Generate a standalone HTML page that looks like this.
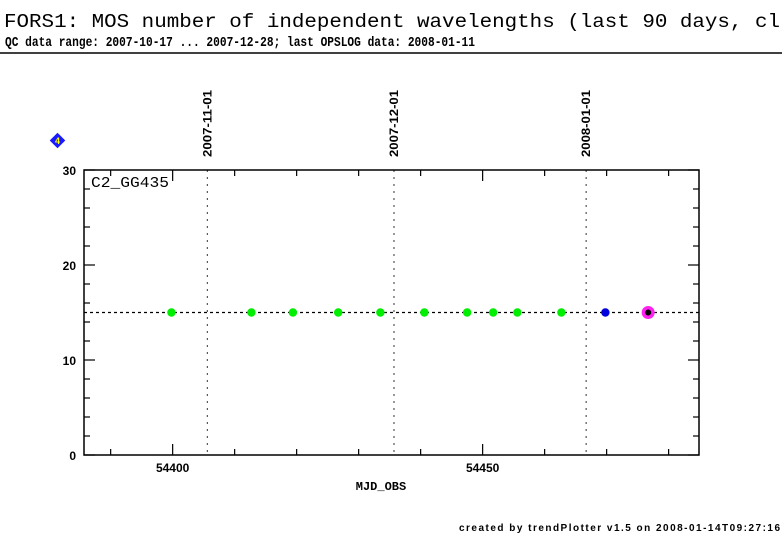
<!DOCTYPE html>
<html><head><meta charset="utf-8"><style>
body{margin:0;background:#fff;width:782px;height:542px;overflow:hidden;}
svg{display:block}
</style></head><body>
<svg id="chart" width="782" height="542" xmlns="http://www.w3.org/2000/svg">
<text x="4" y="27" font-family="Liberation Mono, monospace" font-size="19" fill="#000" textLength="776" lengthAdjust="spacingAndGlyphs">FORS1: MOS number of independent wavelengths (last 90 days, cl</text>
<text x="5" y="46" font-family="Liberation Mono, monospace" font-size="14" font-weight="bold" fill="#000" textLength="470" lengthAdjust="spacingAndGlyphs">QC data range: 2007-10-17 ... 2007-12-28; last OPSLOG data: 2008-01-11</text>
<line x1="0" y1="53" x2="782" y2="53" stroke="#000" stroke-width="1.5"/>
<g><rect x="52" y="135" width="11" height="11" fill="#1a1aff" transform="rotate(45 57.5 140.5)"/><text x="57.5" y="144" font-family="Liberation Sans, sans-serif" font-size="9" font-weight="bold" fill="#ff0" text-anchor="middle">4</text></g>
<text x="91" y="187" font-family="Liberation Mono, monospace" font-size="15" fill="#000" textLength="78" lengthAdjust="spacingAndGlyphs">C2_GG435</text>
<g id="plot"></g>
<text x="381" y="490" font-family="Liberation Mono, monospace" font-size="12" font-weight="bold" text-anchor="middle">MJD_OBS</text>
<text x="459" y="531" font-family="Liberation Sans, sans-serif" font-size="10" font-weight="bold" textLength="321" lengthAdjust="spacing">created by trendPlotter v1.5 on 2008-01-14T09:27:16</text>
</svg>
<script>
const mjdGreen=[54399.8,54412.7,54419.4,54426.7,54433.5,54440.6,54447.5,54451.7,54455.6,54462.7];
const valGreen=[15,15,15,15,15,15,15,15,15,15];
const mjdBlue=[54469.8];
const valBlue=[15];
const mjdLast=[54476.7];
const valLast=[15];
const refValue=15;
const dateMarks=[54405.6,54435.7,54466.7];
const dateLabels=["2007-11-01","2007-12-01","2008-01-01"];
const xTicks=[54400,54450];
const yTicks=[0,10,20,30];

const L=84,R=699,T=170,B=455,x0=54385.7,x1=54484.9,y0=0,y1=30;
const X=v=>L+(v-x0)/(x1-x0)*(R-L);
const Y=v=>B-(v-y0)/(y1-y0)*(B-T);
const NS="http://www.w3.org/2000/svg";
const g=document.getElementById('plot');
function mk(t,a){const e=document.createElementNS(NS,t);for(const k in a)e.setAttribute(k,a[k]);g.appendChild(e);return e;}

dateMarks.forEach((m,i)=>{
 const l=mk('line',{x1:X(m),x2:X(m),y1:T,y2:B,stroke:'#555','stroke-width':1.2,'stroke-dasharray':'2,5'});
 
 
 const t=mk('text',{x:0,y:0,'font-family':'Liberation Sans, sans-serif','font-size':12,'font-weight':'bold',textLength:67,lengthAdjust:'spacingAndGlyphs',transform:`translate(${X(m)+4},157) rotate(-90)`});
 t.textContent=dateLabels[i];
 
 
});
const ref=mk('line',{x1:L,x2:R,y1:Y(refValue),y2:Y(refValue),stroke:'#000','stroke-width':1.3,'stroke-dasharray':'3,3'});



const frame=mk('rect',{x:L,y:T,width:R-L,height:B-T,fill:'none',stroke:'#000','stroke-width':1.5});



for(let v=54390;v<=54480;v+=10){
 const big=v%50===0;
 const a=mk('line',{x1:X(v),x2:X(v),y1:B,y2:B-(big?11:6),stroke:'#000','stroke-width':1.2});
 
 
 const b=mk('line',{x1:X(v),x2:X(v),y1:T,y2:T+(big?11:6),stroke:'#000','stroke-width':1.2});
 
 
}
xTicks.forEach(v=>{
 const t=mk('text',{x:X(v),y:472,'text-anchor':'middle','font-family':'Liberation Sans, sans-serif','font-size':12,'font-weight':'bold'});
 t.textContent=v;
 
 
});
for(let v=0;v<=30;v+=2){
 const big=v%10===0;
 const a=mk('line',{x1:L,x2:L+(big?11:6),y1:Y(v),y2:Y(v),stroke:'#000','stroke-width':1.2});
 
 
 const b=mk('line',{x1:R,x2:R-(big?11:6),y1:Y(v),y2:Y(v),stroke:'#000','stroke-width':1.2});
 
 
}
yTicks.forEach(v=>{
 const t=mk('text',{x:76,y:Y(v)+5,'text-anchor':'end','font-family':'Liberation Sans, sans-serif','font-size':12,'font-weight':'bold'});
 t.textContent=v;
 
 
});
mjdGreen.forEach((m,i)=>{
 const c=mk('circle',{cx:X(m),cy:Y(valGreen[i]),r:4.2,fill:'#00ee00'});
 
 
});
mjdBlue.forEach((m,i)=>{
 const c=mk('circle',{cx:X(m),cy:Y(valBlue[i]),r:4.2,fill:'#0000dd'});
 
 
});
mjdLast.forEach((m,i)=>{
 const c=mk('circle',{cx:X(m),cy:Y(valLast[i]),r:6.5,fill:'#ff22ee'});
 
 
 const d=mk('circle',{cx:X(m),cy:Y(valLast[i]),r:3,fill:'#000'});
 
 
});
</script>
</body></html>
